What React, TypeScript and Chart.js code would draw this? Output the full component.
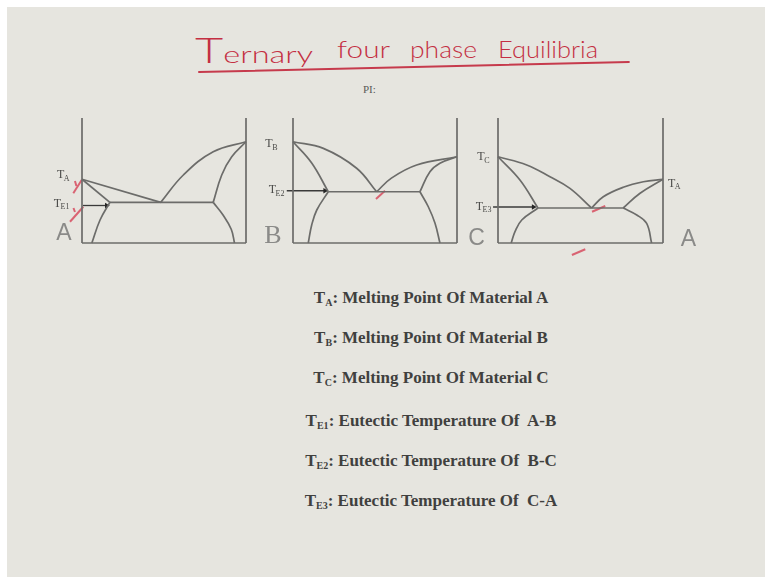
import React, { useEffect, useLayoutEffect, useRef } from "react";
import { Chart, registerables } from "chart.js";

Chart.register(...registerables);

// Melting points and eutectic temperatures (relative units, top of each diagram = 1000)
const T_A = 510;
const T_B = 810;
const T_C = 690;
const T_E1 = 325;
const T_E2 = 410;
const T_E3 = 280;
const T_MAX = 1000;

type Pt = [number, number];

// Frame of every binary diagram: composition 0..100 %, temperature 0..T_MAX
const frameLeft: Pt[] = [[0, 0], [0, T_MAX]];
const frameRight: Pt[] = [[100, 0], [100, T_MAX]];
const frameBase: Pt[] = [[0, 0], [100, 0]];

// A–B system (x = % B)
const abLiquidusA: Pt[] = [[0, T_A], [48, T_E1]];
const abSolidusA: Pt[] = [[0, T_A], [17, T_E1]];
const abSolvusA: Pt[] = [[17, T_E1], [11, 184], [6, 0]];
const abEutectic: Pt[] = [[17, T_E1], [80, T_E1]];
const abLiquidusB: Pt[] = [[48, T_E1], [61.8, 544], [80, 730], [100, T_B]];
const abSolidusB: Pt[] = [[100, T_B], [91.3, 690], [85.2, 544], [80, T_E1]];
const abSolvusB: Pt[] = [[80, T_E1], [86, 224], [91, 110], [93, 0]];
const abArrow: Pt[] = [[0.6, 300], [15, 300]];
const abInk: Pt[][] = [
  [[-5.3, 398], [-0.2, 504]],
  [[-4.3, 496], [-3.4, 456]],
  [[-7.3, 170], [0.8, 290]],
  [[-5.2, 280], [-4.3, 248]],
];

// B–C system (x = % C)
const bcLiquidusB: Pt[] = [[0, T_B], [18.5, 757], [38.8, 598], [51, T_E2]];
const bcSolidusB: Pt[] = [[0, T_B], [11.4, 640], [21.5, T_E2]];
const bcSolvusB: Pt[] = [[21.5, T_E2], [14.5, 264], [11.4, 144], [9.3, 0]];
const bcEutectic: Pt[] = [[21.5, T_E2], [77.4, T_E2]];
const bcLiquidusC: Pt[] = [[51, T_E2], [60, 519], [75.4, 624], [100, T_C]];
const bcSolidusC: Pt[] = [[100, T_C], [89.6, 638], [83.5, 570], [77.4, T_E2]];
const bcSolvusC: Pt[] = [[77.4, T_E2], [82.5, 290], [86.6, 158], [89.6, 0]];
const bcArrow: Pt[] = [[-3.8, 418], [19.5, 418]];
const bcInk: Pt[][] = [[[50.6, 352], [56.1, 418]]];

// C–A system (x = % A)
const caLiquidusC: Pt[] = [[0, T_C], [17.4, 624], [31.5, 530], [43.6, 437], [56.7, T_E3]];
const caSolidusC: Pt[] = [[0, T_C], [13.3, 504], [24.2, T_E3]];
const caSolvusC: Pt[] = [[24.2, T_E3], [14.4, 184], [10.3, 91], [8, 0]];
const caEutectic: Pt[] = [[24.2, T_E3], [75.9, T_E3]];
const caLiquidusA: Pt[] = [[56.7, T_E3], [63.8, 370], [75.9, 446], [88.1, 490], [100, T_A]];
const caSolidusA: Pt[] = [[100, T_A], [86.1, 398], [75.9, T_E3]];
const caSolvusA: Pt[] = [[75.9, T_E3], [84.1, 224], [90.1, 157], [93.1, 0]];
const caArrow: Pt[] = [[-3, 288], [21.5, 288]];
const caInk: Pt[][] = [[[57, 250], [65, 296]], [[44.8, -96], [52.9, -50]]];

// Key to the symbols
const legendSubs = ["A", "B", "C", "E1", "E2", "E3"];
const legendTexts = [
  "Melting Point Of Material A",
  "Melting Point Of Material B",
  "Melting Point Of Material C",
  "Eutectic Temperature Of  A-B",
  "Eutectic Temperature Of  B-C",
  "Eutectic Temperature Of  C-A",
];

const titleWords = ["Ternary", "four", "phase", "Equilibria"];

// ---- styling ----
const LINE = "#6c6c6a";
const INK = "rgba(212, 48, 72, 0.72)";
const PAD = { l: 46, r: 42, t: 20, b: 30 };
const LEGEND_TOPS = [288, 328, 368, 411, 451, 491];
const TITLE_LEFTS = [195, 337, 410, 498];
const TITLE_WIDTHS = [118, 53, 67, 100];

type Kind = "frame" | "curve" | "arrow" | "ink";
type Series = { pts: Pt[]; kind: Kind };
type Tag = { sub: string; value: number; side: "left" | "right"; gap: number; dy: number };
type Letter = { text: string; side: "left" | "right"; gap: number; dy: number; font: string };

function toDataset(s: Series) {
  const base: any = {
    data: s.pts.map(([x, y]) => ({ x, y })),
    showLine: true,
    fill: false,
    clip: false,
    pointRadius: 0,
    pointHoverRadius: 0,
  };
  if (s.kind === "frame") return { ...base, borderColor: LINE, borderWidth: 1.7, tension: 0 };
  if (s.kind === "curve") return { ...base, borderColor: LINE, borderWidth: 1.7, tension: 0.4 };
  if (s.kind === "arrow")
    return {
      ...base,
      borderColor: "#3a3a3a",
      borderWidth: 1.3,
      pointRadius: s.pts.map((_, i) => (i === s.pts.length - 1 ? 3.2 : 0)),
      pointStyle: "triangle",
      rotation: 90,
      pointBackgroundColor: "#262626",
      pointBorderColor: "#262626",
      pointBorderWidth: 0,
    };
  return { ...base, borderColor: INK, borderWidth: 2, tension: 0 };
}

const labelPlugin = {
  id: "diagramLabels",
  afterDatasetsDraw(chart: any, _args: any, opts: any) {
    const { ctx, chartArea, scales } = chart;
    ctx.save();
    ctx.textBaseline = "alphabetic";
    for (const t of (opts.tags || []) as Tag[]) {
      const y = scales.y.getPixelForValue(t.value) + t.dy;
      ctx.font = '12px "Liberation Serif"';
      const wMain = ctx.measureText("T").width;
      ctx.font = '8px "Liberation Serif"';
      const wSub = ctx.measureText(t.sub).width;
      const x0 = t.side === "left" ? chartArea.left - t.gap - wMain - wSub : chartArea.right + t.gap;
      ctx.fillStyle = "#4a4a48";
      ctx.font = '12px "Liberation Serif"';
      ctx.fillText("T", x0, y);
      ctx.font = '8px "Liberation Serif"';
      ctx.fillText(t.sub, x0 + wMain - 0.5, y + 2.5);
    }
    for (const l of (opts.letters || []) as Letter[]) {
      ctx.font = l.font;
      ctx.fillStyle = "#8a8a88";
      ctx.textAlign = "center";
      const x = l.side === "left" ? chartArea.left - l.gap : chartArea.right + l.gap;
      ctx.fillText(l.text, x, chartArea.bottom + l.dy);
    }
    ctx.restore();
  },
};

function PhaseDiagram(props: {
  left: number;
  top: number;
  width: number;
  height: number;
  series: Series[];
  tags: Tag[];
  letters: Letter[];
}) {
  const ref = useRef<HTMLCanvasElement>(null);
  const w = props.width + PAD.l + PAD.r;
  const h = props.height + PAD.t + PAD.b;
  useEffect(() => {
    const canvas = ref.current;
    if (!canvas) return;
    const chart = new Chart(canvas, {
      type: "scatter",
      data: { datasets: props.series.map(toDataset) },
      options: {
        animation: false,
        responsive: false,
        devicePixelRatio: 1,
        events: [],
        layout: { padding: { left: PAD.l, right: PAD.r, top: PAD.t, bottom: PAD.b } },
        scales: {
          x: { type: "linear", min: 0, max: 100, display: false },
          y: { type: "linear", min: 0, max: T_MAX, display: false },
        },
        plugins: {
          legend: { display: false },
          tooltip: { enabled: false },
          diagramLabels: { tags: props.tags, letters: props.letters },
        } as any,
      },
      plugins: [labelPlugin],
    } as any);
    return () => chart.destroy();
  }, []);
  return (
    <canvas
      ref={ref}
      width={w}
      height={h}
      style={{ position: "absolute", left: props.left - PAD.l, top: props.top - PAD.t, width: w, height: h }}
    />
  );
}

function FitText(props: { width: number; style: React.CSSProperties; children: React.ReactNode }) {
  const ref = useRef<HTMLSpanElement>(null);
  useLayoutEffect(() => {
    const el = ref.current;
    if (!el) return;
    el.style.transform = "none";
    const actual = el.getBoundingClientRect().width;
    if (actual > 0) el.style.transform = `scaleX(${props.width / actual})`;
  }, [props.width]);
  return (
    <span
      ref={ref}
      style={{ display: "inline-block", whiteSpace: "pre", transformOrigin: "0 0", ...props.style }}
    >
      {props.children}
    </span>
  );
}

const curves = (list: Pt[][]): Series[] => list.map((pts) => ({ pts, kind: "curve" as Kind }));
const inks = (list: Pt[][]): Series[] => list.map((pts) => ({ pts, kind: "ink" as Kind }));
const frame: Series[] = [frameLeft, frameRight, frameBase].map((pts) => ({ pts, kind: "frame" as Kind }));

const serifLetter = '26px "Liberation Serif"';
const sansLetter = '23px "Liberation Sans"';

export default function App() {
  const abSeries: Series[] = [
    ...frame,
    { pts: abLiquidusA, kind: "frame" },
    { pts: abSolidusA, kind: "frame" },
    ...curves([abSolvusA, abLiquidusB, abSolidusB, abSolvusB]),
    { pts: abEutectic, kind: "frame" },
    { pts: abArrow, kind: "arrow" },
    ...inks(abInk),
  ];
  const bcSeries: Series[] = [
    ...frame,
    ...curves([bcLiquidusB, bcSolidusB, bcSolvusB, bcLiquidusC, bcSolidusC, bcSolvusC]),
    { pts: bcEutectic, kind: "frame" },
    { pts: bcArrow, kind: "arrow" },
    ...inks(bcInk),
  ];
  const caSeries: Series[] = [
    ...frame,
    ...curves([caLiquidusC, caSolidusC, caSolvusC, caLiquidusA, caSolidusA, caSolvusA]),
    { pts: caEutectic, kind: "frame" },
    { pts: caArrow, kind: "arrow" },
    ...inks(caInk),
  ];

  return (
    <div style={{ position: "fixed", left: 0, top: 0, width: 767, height: 578, background: "#ffffff", overflow: "hidden" }}>
      <div style={{ position: "absolute", left: 7, top: 7, width: 758, height: 570, background: "#e6e5df" }} />

      {titleWords.map((word, i) => (
        <div key={word} style={{ position: "absolute", left: TITLE_LEFTS[i], top: 35 }}>
          <FitText
            width={TITLE_WIDTHS[i]}
            style={{ font: '300 24px "Lato"', lineHeight: "28px", color: "#c42f42" }}
          >
            {i === 0 ? (
              <>
                <span style={{ fontSize: 36 }}>{word[0]}</span>
                {word.slice(1)}
              </>
            ) : (
              word
            )}
          </FitText>
        </div>
      ))}
      <div
        style={{
          position: "absolute",
          left: 198,
          top: 70.5,
          width: 432,
          height: 2.2,
          background: "#c63a4c",
          transformOrigin: "0 50%",
          transform: "rotate(-1.33deg)",
          borderRadius: 1,
        }}
      />
      <div style={{ position: "absolute", left: 363, top: 83, font: '11px "Liberation Serif"', lineHeight: "13px", color: "#5a5a58" }}>
        PI:
      </div>

      <PhaseDiagram
        left={82}
        top={118}
        width={164}
        height={125}
        series={abSeries}
        tags={[
          { sub: "A", value: T_A, side: "left", gap: 12, dy: -1 },
          { sub: "E1", value: T_E1, side: "left", gap: 12, dy: 4.5 },
        ]}
        letters={[{ text: "A", side: "left", gap: 18, dy: -3, font: sansLetter }]}
      />
      <PhaseDiagram
        left={293}
        top={118}
        width={164}
        height={125}
        series={bcSeries}
        tags={[
          { sub: "B", value: T_B, side: "left", gap: 15, dy: 5.5 },
          { sub: "E2", value: T_E2, side: "left", gap: 8, dy: 1.5 },
        ]}
        letters={[{ text: "B", side: "left", gap: 20, dy: 0, font: serifLetter }]}
      />
      <PhaseDiagram
        left={498}
        top={118}
        width={165}
        height={125}
        series={caSeries}
        tags={[
          { sub: "C", value: T_C, side: "left", gap: 8, dy: 3.7 },
          { sub: "E3", value: T_E3, side: "left", gap: 6, dy: 1.7 },
          { sub: "A", value: T_A, side: "right", gap: 5, dy: 7.7 },
        ]}
        letters={[
          { text: "C", side: "left", gap: 21.5, dy: 2, font: sansLetter },
          { text: "A", side: "right", gap: 25.5, dy: 3, font: sansLetter },
        ]}
      />

      {legendTexts.map((text, i) => (
        <div
          key={text}
          style={{
            position: "absolute",
            left: 131,
            width: 600,
            top: LEGEND_TOPS[i],
            textAlign: "center",
            font: 'bold 17px "Liberation Serif"',
            lineHeight: "20px",
            color: "#40403e",
            whiteSpace: "pre",
          }}
        >
          T<span style={{ fontSize: 10, verticalAlign: -3 }}>{legendSubs[i]}</span>: {text}
        </div>
      ))}
    </div>
  );
}
